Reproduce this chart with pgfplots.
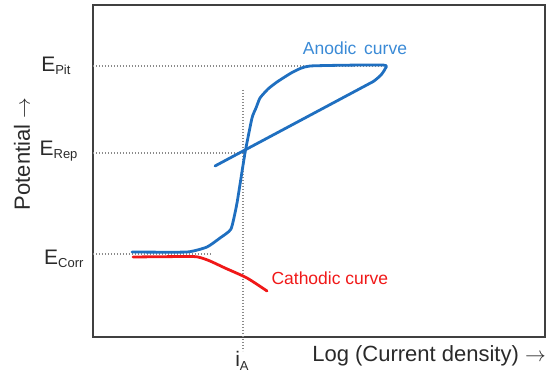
\documentclass[border=0pt]{standalone}
\usepackage{pgfplots}
\pgfplotsset{compat=1.18}
\usepackage{fontspec}
\setmainfont{Liberation Sans}
\definecolor{anod}{HTML}{1F6FC0}
\definecolor{anodtxt}{HTML}{3A8AD6}
\definecolor{cath}{HTML}{F01818}
\definecolor{frame}{HTML}{404040}
\definecolor{txt}{HTML}{2A2A2A}
\definecolor{dotc}{HTML}{8A8A8A}
\begin{document}
\begin{tikzpicture}
\useasboundingbox (0,0) rectangle (547pt,373pt);
\begin{axis}[
  at={(93pt,36pt)}, anchor=south west,
  scale only axis, width=452pt, height=332pt,
  xmin=93, xmax=545, ymin=0, ymax=332,
  xtick=\empty, ytick=\empty,
  axis line style={frame, line width=1.4pt},
  clip=false,
]
% reference dotted lines
\addplot[dotc, line width=1.1pt, dash pattern=on 1.1pt off 1.9pt] coordinates {(93,271) (383,271)};
\addplot[dotc, line width=1.1pt, dash pattern=on 1.1pt off 1.9pt] coordinates {(93,184) (245,184)};
\addplot[dotc, line width=1.1pt, dash pattern=on 1.1pt off 1.9pt] coordinates {(93,83) (211,83)};
\addplot[dotc, line width=1.1pt, dash pattern=on 1.1pt off 1.9pt] coordinates {(243,247) (243,-14)};
% anodic curve
\addplot[anod, line width=2.8pt, line join=round, line cap=round, smooth, tension=0.3] coordinates {
(132,85) (187,85) (207,90) (220,99) (231,108) (237,134) (245,184) (252,219) (256,229)
(260,239) (268,248) (277,255) (293,265) (310,271) (383,272) (385,268) (381,262)
(374,256) (363,250) (215,171)};
% cathodic curve
\addplot[cath, line width=2.8pt, line join=round, line cap=round, smooth, tension=0.4] coordinates {
(133,80) (190,80.5) (200,79.5) (210,76) (225,69) (247,59) (267,46)};
% labels
\node[anodtxt, font=\fontsize{17.5}{17.5}\selectfont] at (axis cs:355,289) {Anodic\, curve};
\node[cath, font=\fontsize{17.5}{17.5}\selectfont, anchor=west] at (axis cs:268,59) {Cathodic curve};
\node[txt, anchor=east, font=\fontsize{21}{21}\selectfont] at (axis cs:74,271) {E\raisebox{-0.3ex}{\fontsize{13}{13}\selectfont Pit}};
\node[txt, anchor=east, font=\fontsize{21}{21}\selectfont] at (axis cs:81,186) {E\raisebox{-0.3ex}{\fontsize{13}{13}\selectfont Rep}};
\node[txt, anchor=east, font=\fontsize{21}{21}\selectfont] at (axis cs:87,78) {E\raisebox{-0.3ex}{\fontsize{13}{13}\selectfont Corr}};
\node[txt, font=\fontsize{21}{21}\selectfont] at (axis cs:242,-24) {i\raisebox{-0.3ex}{\fontsize{13}{13}\selectfont A}};
\node[txt, anchor=east, font=\fontsize{22}{22}\selectfont, inner sep=0pt] at (axis cs:546,-19) {Log (Current density) $\rightarrow$};
\node[txt, rotate=90, font=\fontsize{22}{22}\selectfont] at (axis cs:22,183) {Potential $\rightarrow$};
\end{axis}
\end{tikzpicture}
\end{document}
